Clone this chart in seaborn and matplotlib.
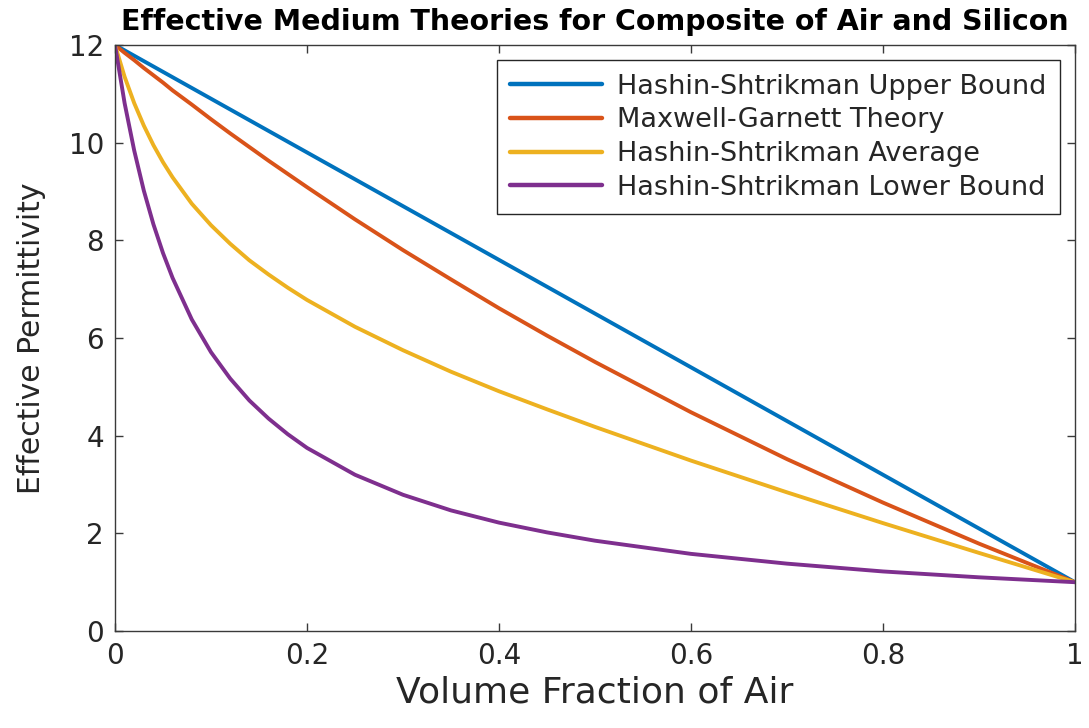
import numpy as np
import pandas as pd
import matplotlib
matplotlib.use("Agg")
import matplotlib.pyplot as plt
import seaborn as sns

# Volume fraction of air (x) and values
volume_fraction = [0.00, 0.01, 0.02, 0.03, 0.04, 0.05, 0.06, 0.08, 0.10, 0.12,
                   0.14, 0.16, 0.18, 0.20, 0.25, 0.30, 0.35, 0.40, 0.45, 0.50,
                   0.60, 0.70, 0.80, 0.90, 1.00]

hs_upper = [12.00, 11.89, 11.78, 11.67, 11.56, 11.45, 11.34, 11.12, 10.90, 10.68,
            10.46, 10.24, 10.02, 9.80, 9.25, 8.70, 8.15, 7.60, 7.05, 6.50,
            5.40, 4.30, 3.20, 2.10, 1.00]

maxwell_garnett = [12.00, 11.84, 11.69, 11.53, 11.38, 11.23, 11.07, 10.78, 10.48, 10.19,
                   9.91, 9.63, 9.36, 9.09, 8.43, 7.80, 7.20, 6.61, 6.05, 5.51,
                   4.48, 3.52, 2.63, 1.79, 1.00]

hs_average = [12.00, 11.35, 10.81, 10.35, 9.95, 9.60, 9.29, 8.75, 8.31, 7.93,
              7.59, 7.30, 7.03, 6.78, 6.23, 5.75, 5.31, 4.91, 4.54, 4.18,
              3.49, 2.84, 2.21, 1.60, 1.00]

hs_lower = [12.00, 10.81, 9.84, 9.02, 8.33, 7.74, 7.23, 6.38, 5.71, 5.17,
            4.72, 4.35, 4.03, 3.75, 3.20, 2.79, 2.47, 2.22, 2.02, 1.85,
            1.58, 1.38, 1.22, 1.10, 1.00]

series_names = ["Hashin-Shtrikman Upper Bound", "Maxwell-Garnett Theory",
                "Hashin-Shtrikman Average", "Hashin-Shtrikman Lower Bound"]
series_colors = ["#0072BD", "#D95319", "#EDB120", "#7E2F8E"]

x_ticks = [0, 0.2, 0.4, 0.6, 0.8, 1.0]
x_tick_labels = ["0", "0.2", "0.4", "0.6", "0.8", "1"]
y_ticks = [0, 2, 4, 6, 8, 10, 12]

title_text = "Effective Medium Theories for Composite of Air and Silicon"
x_label = "Volume Fraction of Air"
y_label = "Effective Permittivity"

# Long-form table for seaborn
frames = []
for name, vals in zip(series_names, [hs_upper, maxwell_garnett, hs_average, hs_lower]):
    frames.append(pd.DataFrame({"x": volume_fraction, "y": vals, "series": name}))
df = pd.concat(frames, ignore_index=True)

sns.set_theme(style="ticks")
plt.rcParams["font.family"] = ["DejaVu Sans"]

fig = plt.figure(figsize=(10.89, 7.28), dpi=100)
ax = fig.add_axes([0.1056, 0.1332, 0.8815, 0.805])

sns.lineplot(data=df, x="x", y="y", hue="series", hue_order=series_names,
             palette=dict(zip(series_names, series_colors)), sort=False,
             linewidth=2.8, ax=ax, legend=True)

ax.set_xlim(0, 1)
ax.set_ylim(0, 12)
ax.set_xticks(x_ticks)
ax.set_xticklabels(x_tick_labels)
ax.set_yticks(y_ticks)

edge = "#3a3a3a"
for s in ax.spines.values():
    s.set_visible(True)
    s.set_color(edge)
    s.set_linewidth(1.0)
ax.tick_params(direction="in", length=6, width=1.0, color=edge,
               top=True, right=True, labelsize=20, labelcolor="#262626", pad=8)

ax.set_xlabel(x_label, fontsize=26, color="#262626", labelpad=4)
ax.set_ylabel(y_label, fontsize=21.5, color="#262626", labelpad=16)
ax.set_title(title_text, fontsize=20.5, fontweight="bold", color="#000000", pad=11)

leg = ax.legend(loc="upper right", fontsize=19.5, frameon=True, fancybox=False,
                framealpha=1, edgecolor="#262626", handlelength=3.4,
                borderpad=0.5, labelspacing=0.28, handletextpad=0.55,
                bbox_to_anchor=(0.9985, 0.997))
leg.get_frame().set_linewidth(1.0)
for line in leg.get_lines():
    line.set_linewidth(3.2)

fig.savefig("out.png", dpi=100)
